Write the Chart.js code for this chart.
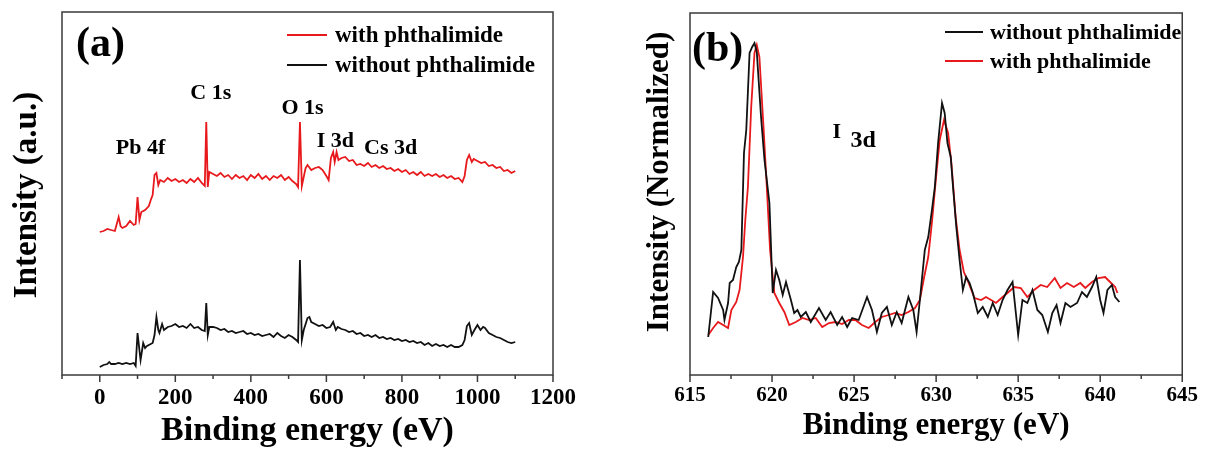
<!DOCTYPE html>
<html>
<head>
<meta charset="utf-8">
<script src="https://cdn.jsdelivr.net/npm/chart.js@4.4.1/dist/chart.umd.min.js"></script>
<style>
  html, body { margin: 0; padding: 0; background: #fff; }
  #wrap { position: relative; width: 1206px; height: 450px; }
  #wrap canvas { position: absolute; top: 0; }
  #surveyChart { left: 0; width: 600px; height: 450px; }
  #iodineChart { left: 600px; width: 606px; height: 450px; }
</style>
</head>
<body>
<div id="wrap">
  <canvas id="surveyChart" width="600" height="450"></canvas>
  <canvas id="iodineChart" width="606" height="450"></canvas>
</div>
<script>
// (a) survey spectra, binding energy (eV) and intensity (a.u.)
const surveyWithEnergy = [0, 10, 20, 30, 40, 50, 55, 60, 70, 80, 90, 95, 100, 105, 110, 120, 130, 135, 140, 145,
  150, 155, 160, 170, 180, 190, 200, 210, 220, 230, 240, 250, 260, 270, 278, 282, 286, 290, 300, 310,
  320, 330, 340, 350, 360, 370, 380, 390, 400, 410, 420, 430, 440, 450, 460, 470, 480, 490, 500, 510,
  520, 525, 530, 535, 545, 550, 560, 570, 580, 590, 600, 606, 612, 618, 622, 627, 632, 640, 650, 660,
  670, 680, 690, 700, 710, 720, 730, 740, 750, 760, 770, 780, 790, 800, 810, 820, 830, 840, 850, 860,
  870, 880, 890, 900, 910, 920, 930, 940, 950, 960, 966, 972, 978, 985, 990, 1000, 1010, 1020, 1030, 1040,
  1050, 1060, 1070, 1080, 1090, 1100];
const surveyWithIntensity = [143, 144, 146, 145, 144, 158, 149, 147, 149, 154, 150, 151, 178, 155, 163, 165, 169, 175, 180, 200,
  202, 190, 195, 193, 197, 194, 196, 193, 195, 192, 196, 193, 197, 192, 189, 253, 188, 203, 201, 199,
  202, 198, 200, 196, 200, 197, 199, 195, 200, 197, 201, 196, 199, 195, 199, 197, 200, 195, 198, 194,
  191, 188, 253, 189, 207, 210, 205, 207, 208, 205, 199, 195, 217, 223, 213, 223, 215, 217, 218, 214,
  215, 210, 211, 209, 212, 208, 210, 207, 209, 206, 207, 204, 206, 203, 205, 201, 203, 200, 203, 199,
  201, 199, 201, 198, 200, 197, 199, 196, 197, 193, 199, 215, 220, 213, 216, 214, 212, 213, 209, 210,
  207, 208, 204, 205, 202, 204];

const surveyWithoutEnergy = [0, 10, 20, 25, 30, 40, 50, 60, 70, 80, 90, 95, 100, 105, 108, 115, 120, 125, 130, 140,
  145, 150, 155, 158, 165, 170, 180, 190, 200, 210, 220, 230, 240, 250, 260, 270, 278, 282, 286, 290,
  300, 310, 320, 330, 340, 350, 360, 370, 380, 390, 400, 410, 420, 430, 440, 450, 460, 470, 480, 490,
  500, 510, 520, 525, 530, 535, 540, 550, 555, 560, 570, 580, 590, 600, 610, 618, 625, 630, 640, 650,
  660, 670, 680, 690, 700, 710, 720, 730, 740, 750, 760, 770, 780, 790, 800, 810, 820, 830, 840, 850,
  860, 870, 880, 890, 900, 910, 920, 930, 940, 950, 960, 966, 972, 978, 985, 992, 1000, 1008, 1015, 1020,
  1030, 1040, 1050, 1060, 1070, 1080, 1090, 1100];
const surveyWithoutIntensity = [8, 10, 11, 13, 11, 11, 12, 11, 12, 11, 12, 9, 42, 25, 15, 32, 27, 29, 30, 32,
  40, 58, 45, 42, 51, 45, 48, 49, 51, 48, 49, 47, 51, 47, 48, 45, 44, 72, 40, 48,
  48, 47, 45, 46, 43, 44, 42, 43, 44, 41, 42, 40, 41, 39, 40, 41, 38, 42, 39, 37,
  40, 38, 35, 33, 115, 35, 45, 57, 58, 53, 51, 49, 50, 47, 48, 53, 45, 48, 46, 45,
  43, 44, 41, 42, 39, 40, 38, 40, 37, 38, 36, 37, 35, 36, 34, 35, 33, 34, 32, 33,
  30, 32, 29, 31, 29, 30, 28, 30, 28, 28, 30, 35, 49, 52, 40, 45, 50, 45, 48, 47,
  42, 40, 38, 37, 35, 33, 32, 33];

// (b) I 3d high resolution spectra, normalized intensity
const iodineWithoutEnergy = [616.11, 616.41, 616.71, 617.02, 617.1, 617.32, 617.42, 617.62, 617.82, 617.98,
  618.13, 618.29, 618.43, 618.63, 618.79, 618.93, 619.07, 619.33, 619.54, 619.84,
  620.04, 620.24, 620.44, 620.65, 620.85, 621.15, 621.35, 621.55, 621.75, 622.06,
  622.36, 622.86, 623.27, 623.57, 623.97, 624.27, 624.58, 624.88, 625.28, 625.79,
  626.09, 626.39, 626.69, 627.0, 627.3, 627.6, 627.9, 628.31, 628.61, 628.81,
  629.01, 629.31, 629.52, 629.72, 629.92, 630.12, 630.36, 630.52, 630.69, 630.89,
  631.03, 631.23, 631.43, 631.63, 631.83, 632.04, 632.24, 632.54, 632.84, 633.15,
  633.45, 633.75, 634.05, 634.35, 634.66, 635.0, 635.26, 635.56, 635.87, 636.17,
  636.47, 636.81, 637.08, 637.34, 637.58, 637.88, 638.19, 638.59, 638.89, 639.19,
  639.5, 639.76, 640.0, 640.2, 640.44, 640.71, 640.91, 641.17];
const iodineWithoutIntensity = [38, 83, 77, 65, 55, 72, 92, 95, 108, 113,
  125, 222, 245, 322, 328, 332, 323, 258, 215, 172,
  82, 105, 95, 80, 93, 75, 62, 65, 58, 63,
  53, 67, 55, 63, 50, 58, 48, 57, 55, 78,
  65, 43, 62, 68, 50, 63, 52, 78, 65, 43,
  75, 125, 138, 162, 188, 232, 272, 262, 232, 218,
  188, 148, 115, 85, 98, 92, 82, 62, 68, 58,
  72, 60, 75, 85, 93, 40, 75, 72, 85, 65,
  60, 43, 62, 70, 52, 72, 68, 72, 83, 78,
  88, 98, 75, 62, 85, 90, 78, 73];

const iodineWithEnergy = [616.11, 616.41, 616.71, 617.02, 617.32, 617.52, 617.82, 618.02, 618.23, 618.37,
  618.53, 618.73, 618.93, 619.07, 619.23, 619.48, 619.68, 619.88, 620.14, 620.44,
  620.75, 621.05, 621.45, 621.85, 622.26, 622.66, 623.06, 623.47, 623.87, 624.27,
  624.68, 625.08, 625.48, 625.89, 626.29, 626.69, 627.1, 627.5, 627.9, 628.31,
  628.71, 629.01, 629.27, 629.52, 629.76, 630.02, 630.22, 630.48, 630.73, 630.93,
  631.19, 631.43, 631.69, 631.98, 632.34, 632.74, 633.04, 633.35, 633.65, 634.05,
  634.35, 634.76, 635.16, 635.56, 635.97, 636.37, 636.77, 637.23, 637.58, 637.98,
  638.39, 638.79, 639.09, 639.5, 639.9, 640.3, 640.6, 640.91, 641.05];
const iodineWithIntensity = [40, 47, 53, 50, 47, 65, 73, 85, 118, 155,
  188, 268, 322, 330, 318, 248, 188, 125, 82, 72,
  63, 50, 53, 57, 55, 57, 48, 52, 53, 51,
  55, 55, 50, 47, 53, 58, 60, 62, 60, 63,
  67, 75, 98, 118, 155, 202, 235, 255, 242, 212,
  158, 125, 103, 92, 77, 75, 78, 75, 72, 78,
  82, 88, 87, 78, 85, 90, 88, 97, 87, 92,
  88, 92, 87, 93, 97, 98, 93, 88, 82];

const labelWith = 'with phthalimide';
const labelWithout = 'without phthalimide';

const RED = '#e8191c';
const BLACK = '#111111';
const SERIF = '"Liberation Serif", "Times New Roman", serif';

const toPoints = (xs, ys) => xs.map((x, i) => ({ x: x, y: ys[i] }));

// Frame, outward major/minor ticks, y title, panel letter, peak labels and legend
const panelDecor = {
    id: 'panelDecor',
    afterDraw(chart, args, opts) {
        const ctx = chart.ctx;
        const a = chart.chartArea;
        const xs = chart.scales.x;
        const ys = chart.scales.y;
        ctx.save();
        ctx.strokeStyle = '#3a3a3a';
        ctx.lineWidth = 1.5;
        ctx.strokeRect(a.left, a.top, a.right - a.left, a.bottom - a.top);
        ctx.beginPath();
        for (let t of xs.ticks) {
            const px = xs.getPixelForValue(t.value);
            const r = t.value / opts.majorStep;
            const major = Math.abs(r - Math.round(r)) < 1e-6;
            ctx.moveTo(px, a.bottom);
            ctx.lineTo(px, a.bottom + (major ? 7 : 4));
        }
        ctx.stroke();

        ctx.fillStyle = '#000';
        ctx.textBaseline = 'middle';

        // Rotated y axis title
        const yt = opts.yTitle;
        ctx.save();
        ctx.translate(yt.x, yt.y);
        ctx.rotate(-Math.PI / 2);
        ctx.textAlign = 'center';
        ctx.font = 'bold ' + yt.size + 'px ' + SERIF;
        ctx.fillText(yt.text, 0, 0);
        ctx.restore();

        ctx.textAlign = 'left';
        ctx.font = 'bold 42px ' + SERIF;
        ctx.fillText(opts.letter, opts.letterX, opts.letterY);

        ctx.textAlign = 'center';
        for (let n of opts.notes) {
            ctx.font = 'bold ' + n.size + 'px ' + SERIF;
            ctx.fillText(n.text, xs.getPixelForValue(n.x), ys.getPixelForValue(n.y));
        }

        // Legend, one row per dataset in dataset order
        const lg = opts.legend;
        ctx.textAlign = 'left';
        ctx.font = 'bold ' + lg.size + 'px ' + SERIF;
        chart.data.datasets.forEach((ds, i) => {
            const yy = lg.y + i * lg.rowGap;
            ctx.strokeStyle = ds.borderColor;
            ctx.lineWidth = 2;
            ctx.beginPath();
            ctx.moveTo(lg.x, yy);
            ctx.lineTo(lg.x + lg.lineLen, yy);
            ctx.stroke();
            ctx.fillText(ds.label, lg.x + lg.lineLen + lg.gap, yy + 1);
        });
        ctx.restore();
    }
};

function makeChart(canvasId, datasets, cfg) {
    return new Chart(document.getElementById(canvasId), {
        type: 'line',
        data: { datasets: datasets },
        options: {
            responsive: false,
            animation: false,
            devicePixelRatio: 1,
            layout: { padding: cfg.padding },
            elements: { point: { radius: 0 }, line: { tension: 0, borderWidth: 1.8 } },
            plugins: {
                legend: { display: false },
                tooltip: { enabled: false },
                panelDecor: cfg.decor
            },
            scales: {
                x: {
                    type: 'linear',
                    min: cfg.xMin,
                    max: cfg.xMax,
                    grid: { display: false, drawTicks: false },
                    border: { display: false },
                    ticks: {
                        stepSize: cfg.minorStep,
                        autoSkip: false,
                        maxRotation: 0,
                        padding: cfg.tickPad,
                        color: '#000',
                        font: { family: SERIF, size: cfg.tickSize, weight: 'bold' },
                        callback: (v) => {
                            const r = v / cfg.majorStep;
                            return (Math.abs(r - Math.round(r)) < 1e-6 && v >= cfg.firstLabel) ? String(v) : '';
                        }
                    },
                    title: {
                        display: true,
                        text: 'Binding energy (eV)',
                        color: '#000',
                        padding: cfg.xTitlePad,
                        font: { family: SERIF, size: cfg.xTitleSize, weight: 'bold', lineHeight: 1 }
                    },
                    afterFit: (s) => { s.height = cfg.xAxisHeight; }
                },
                y: {
                    min: 0,
                    max: cfg.yMax,
                    grid: { display: false, drawTicks: false },
                    border: { display: false },
                    ticks: { display: false },
                    afterFit: (s) => { s.width = cfg.yAxisWidth; }
                }
            }
        },
        plugins: [panelDecor]
    });
}

makeChart('surveyChart', [
    { label: labelWith, data: toPoints(surveyWithEnergy, surveyWithIntensity), borderColor: RED },
    { label: labelWithout, data: toPoints(surveyWithoutEnergy, surveyWithoutIntensity), borderColor: BLACK }
], {
    padding: { left: 0, top: 12, right: 47, bottom: 0 },
    xMin: -100, xMax: 1200, minorStep: 100, majorStep: 200, firstLabel: 0,
    tickPad: 9, tickSize: 23,
    xTitlePad: 2, xTitleSize: 34, xAxisHeight: 75,
    yMax: 363, yAxisWidth: 62,
    decor: {
        majorStep: 200,
        yTitle: { text: 'Intensity (a.u.)', x: 27, y: 195, size: 33 },
        letter: '(a)', letterX: 76, letterY: 45,
        notes: [
            { text: 'Pb 4f', x: 108, y: 227, size: 22 },
            { text: 'C 1s', x: 294, y: 282, size: 22 },
            { text: 'O 1s', x: 537, y: 267, size: 22 },
            { text: 'I 3d', x: 624, y: 234, size: 22 },
            { text: 'Cs 3d', x: 770, y: 227, size: 22 }
        ],
        legend: { x: 287, y: 35, rowGap: 30, lineLen: 40, gap: 8, size: 23 }
    }
});

makeChart('iodineChart', [
    { label: labelWithout, data: toPoints(iodineWithoutEnergy, iodineWithoutIntensity), borderColor: BLACK },
    { label: labelWith, data: toPoints(iodineWithEnergy, iodineWithIntensity), borderColor: RED }
], {
    padding: { left: 0, top: 13, right: 20, bottom: 0 },
    xMin: 615, xMax: 645, minorStep: 2.5, majorStep: 5, firstLabel: 615,
    tickPad: 8, tickSize: 21,
    xTitlePad: 9, xTitleSize: 31, xAxisHeight: 75,
    yMax: 362, yAxisWidth: 90,
    decor: {
        majorStep: 5,
        yTitle: { text: 'Intensity (Normalized)', x: 60, y: 182, size: 31 },
        letter: '(b)', letterX: 92, letterY: 50,
        notes: [
            { text: 'I', x: 623.95, y: 243, size: 22 },
            { text: '3d', x: 625.56, y: 234, size: 24 }
        ],
        legend: { x: 345, y: 32, rowGap: 29, lineLen: 38, gap: 7, size: 22 }
    }
});
</script>
</body>
</html>
